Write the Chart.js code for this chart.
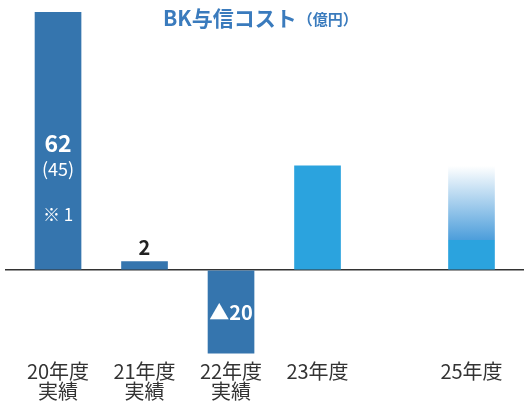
<!DOCTYPE html>
<html>
<head>
<meta charset="utf-8">
<script src="https://cdn.jsdelivr.net/npm/chart.js@4"></script>
<style>
  html, body { margin: 0; padding: 0; background: #fff; }
  #wrap { width: 524px; height: 403px; position: relative; }
</style>
</head>
<body>
<div id="wrap"><canvas id="graph"></canvas></div>
<script>
// data
const categories = [['20年度', '実績'], ['21年度', '実績'], ['22年度', '実績'], ['23年度'], ['25年度']];
const positions = [0, 1, 2, 3, 4.78];   // 24年度 is skipped, so 25年度 sits further right
const values = [62, 2, -20, 25, 25];
const valueLabels = ['62', '2', '▲20', '', ''];
const subLabels = ['(45)', '', '', '', ''];
const noteLabels = ['※ 1', '', '', '', ''];

const FONT = '"Noto Sans CJK JP", "Noto Sans", sans-serif';
const darkBlue = '#3575ae';
const lightBlue = '#2ba3de';
const barColors = [darkBlue, darkBlue, darkBlue, lightBlue, lightBlue];

let graph = document.getElementById('graph');

const titlePlugin = {
  id: 'jpTitle',
  afterDraw(chart) {
    const c = chart.ctx;
    c.save();
    c.fillStyle = '#3a7bbd';
    c.textBaseline = 'alphabetic';
    c.textAlign = 'left';
    c.font = 'bold 21px ' + FONT;
    const main = 'BK与信コスト';
    c.fillText(main, 163, 26);
    const w = c.measureText(main).width;
    c.font = 'bold 15px ' + FONT;
    c.fillText('（億円）', 163 + w + 1, 25);
    c.restore();
  }
};

const labelPlugin = {
  id: 'barLabels',
  afterDatasetsDraw(chart) {
    const c = chart.ctx;
    const meta = chart.getDatasetMeta(0);
    c.save();
    c.textAlign = 'center';
    c.textBaseline = 'middle';
    meta.data.forEach((bar, i) => {
      if (!valueLabels[i]) return;
      const mid = (bar.y + bar.base) / 2;
      if (i === 0) {
        c.fillStyle = '#ffffff';
        c.font = 'bold 23px ' + FONT;
        c.fillText(valueLabels[i], bar.x, mid + 3);
        c.font = '18px ' + FONT;
        c.fillText(subLabels[i], bar.x, mid + 29);
        c.font = '17px ' + FONT;
        c.fillText(noteLabels[i], bar.x, mid + 74);
      } else if (values[i] < 0) {
        c.fillStyle = '#ffffff';
        c.font = 'bold 20px ' + FONT;
        c.fillText(valueLabels[i], bar.x, mid);
      } else {
        c.fillStyle = '#222222';
        c.font = 'bold 20px ' + FONT;
        c.fillText(valueLabels[i], bar.x, bar.y - 14);
      }
    });
    c.restore();
  }
};

const dataGraph = {
  datasets: [{
    data: positions.map((p, i) => ({ x: p, y: values[i] })),
    barThickness: 46,
    backgroundColor: (ctx) => {
      const chart = ctx.chart;
      const i = ctx.dataIndex;
      if (i !== 4 || !chart.chartArea) return barColors[i];
      const y = chart.scales.y;
      const top = y.getPixelForValue(values[i]);
      const bottom = y.getPixelForValue(0);
      const g = chart.ctx.createLinearGradient(0, top, 0, bottom);
      g.addColorStop(0, '#ffffff');
      g.addColorStop(0.71, '#4d9edb');
      g.addColorStop(0.71, lightBlue);
      g.addColorStop(1, lightBlue);
      return g;
    }
  }]
};

const configGraph = {
  type: 'bar',
  data: dataGraph,
  options: {
    responsive: false,
    animation: false,
    layout: { padding: { left: 5, right: 0, top: 12, bottom: 0 } },
    plugins: {
      legend: { display: false },
      tooltip: { enabled: false },
      title: { display: false }
    },
    scales: {
      x: {
        type: 'linear',
        offset: false,
        min: -0.613,
        max: 5.387,
        afterBuildTicks: (scale) => { scale.ticks = positions.map(p => ({ value: p })); },
        ticks: {
          autoSkip: false,
          maxRotation: 0,
          padding: 2,
          color: '#333333',
          font: { family: FONT, size: 20, lineHeight: 1.0 },
          callback: (v) => {
            const i = positions.indexOf(v);
            return i >= 0 ? categories[i] : '';
          }
        },
        grid: { display: false, drawTicks: false, offset: false },
        border: { display: false }
      },
      y: {
        min: -21.4,
        max: 62,
        afterBuildTicks: (scale) => { scale.ticks = [{ value: 0 }]; },
        ticks: { display: false },
        grid: {
          drawTicks: false,
          lineWidth: 1.5,
          color: (ctx) => (ctx.tick && ctx.tick.value === 0 ? '#333333' : 'rgba(0,0,0,0)')
        },
        border: { display: false }
      }
    }
  },
  plugins: [titlePlugin, labelPlugin]
};

graph.width = 524;
graph.height = 403;
let graphVisible = new Chart(graph, configGraph);
</script>
</body>
</html>
